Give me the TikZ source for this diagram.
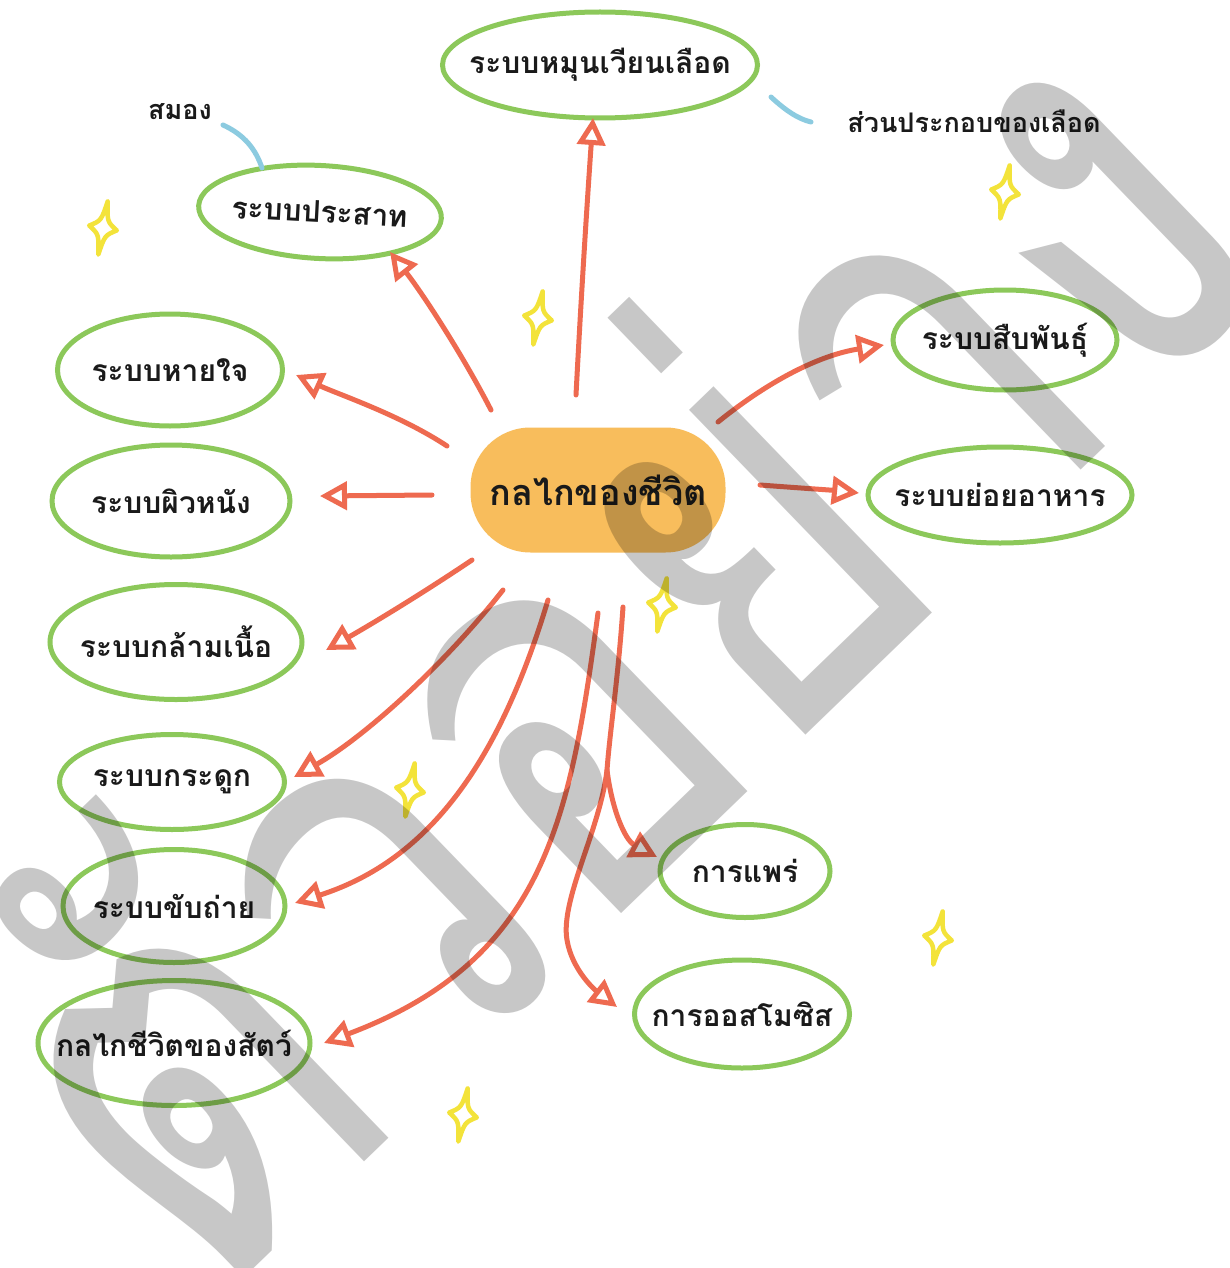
\documentclass[tikz,border=0pt]{standalone}
\usepackage{fontspec}
\usetikzlibrary{shapes.geometric,arrows.meta}
\newfontfamily\thai[Script=Thai]{Loma}
\definecolor{leaf}{HTML}{8CC85A}
\definecolor{coral}{HTML}{EE6A50}
\definecolor{amber}{HTML}{F8BD5C}
\definecolor{sky}{HTML}{8CCBE0}
\definecolor{spk}{HTML}{F3E33A}
\definecolor{ink}{HTML}{1A1A1A}
\tikzset{
  bub/.style={ellipse, draw=leaf, line width=5pt, inner sep=0pt, text=ink,
    font=\thai\bfseries\fontsize{30}{30}\selectfont},
  arr/.style={draw=coral, line width=5pt, line cap=round, line join=round,
    -{Triangle[open,length=27pt,width=28pt]}},
  note/.style={text=ink, font=\thai\bfseries\fontsize{27}{27}\selectfont},
  spark/.style={draw=spk, line width=4.5pt, line join=round},
  sparkle/.pic={\draw[spark] (0,-27) .. controls (3,-7) .. (14,0) .. controls (3,7) .. (0,27) .. controls (-3,7) .. (-14,0) .. controls (-3,-7) .. cycle;},
  skyline/.style={draw=sky, line width=5pt, line cap=round}
}
\newcommand{\tx}[1]{\makebox[0pt]{#1}}
\begin{document}
\begin{tikzpicture}[x=1pt,y=-1pt]
\fill[white] (0,0) rectangle (1230,1268);
\useasboundingbox (0,0) rectangle (1230,1268);

% hub
\node[fill=amber, rounded corners=60pt, minimum width=255pt, minimum height=125pt,
  text=ink, font=\thai\bfseries\fontsize{36}{36}\selectfont] (hub) at (598,490) {กลไกของชีวิต};

% bubbles
\node[bub, minimum width=315pt, minimum height=106pt] (circ) at (600,65) {\tx{ระบบหมุนเวียนเลือด}};
\node[bub, minimum width=243pt, minimum height=93pt, rotate=-3] (nerv) at (320,212) {\tx{ระบบประสาท}};
\node[bub, minimum width=225pt, minimum height=112pt] (resp) at (170,370) {\tx{ระบบหายใจ}};
\node[bub, minimum width=238pt, minimum height=112pt] (skin) at (171,501) {\tx{ระบบผิวหนัง}};
\node[bub, minimum width=252pt, minimum height=115pt] (musc) at (176,642) {\tx{ระบบกล้ามเนื้อ}};
\node[bub, minimum width=225pt, minimum height=95pt] (bone) at (172,782) {\tx{ระบบกระดูก}};
\node[bub, minimum width=222pt, minimum height=113pt] (excr) at (174,906) {\tx{ระบบขับถ่าย}};
\node[bub, minimum width=272pt, minimum height=125pt] (anim) at (174,1043) {\tx{กลไกชีวิตของสัตว์}};
\node[bub, minimum width=224pt, minimum height=100pt] (repr) at (1005,340) {\tx{ระบบสืบพันธุ์}};
\node[bub, minimum width=264pt, minimum height=96pt] (dige) at (1000,495) {\tx{ระบบย่อยอาหาร}};
\node[bub, minimum width=170pt, minimum height=93pt] (diff) at (745,871) {\tx{การแพร่}};
\node[bub, minimum width=215pt, minimum height=108pt] (osmo) at (742,1014) {\tx{การออสโมซิส}};

% notes
\node[note] (brain) at (180,112) {สมอง};
\node[note] (blood) at (974,121) {ส่วนประกอบของเลือด};
\coordinate (b1) at (223,125); \coordinate (b2) at (262,168);
\draw[skyline] (b1) .. controls (245,135) and (256,150) .. (b2);
\coordinate (c1) at (771,97); \coordinate (c2) at (811,122);
\draw[skyline] (c1) .. controls (785,110) and (798,119) .. (c2);

% connector ends
\coordinate (s1) at (576,395);  \coordinate (e1) at (593,118);
\coordinate (s2) at (491,410);  \coordinate (e2) at (390,252);
\coordinate (s3) at (447,446);  \coordinate (e3) at (296,375);
\coordinate (s4) at (432,495);  \coordinate (e4) at (320,496);
\coordinate (s5) at (472,560);  \coordinate (e5) at (326,650);
\coordinate (s6) at (503,590);  \coordinate (e6) at (294,777);
\coordinate (s7) at (548,600);  \coordinate (e7) at (295,903);
\coordinate (s8) at (598,613);  \coordinate (e8) at (324,1043);
\coordinate (s9) at (623,607);  \coordinate (f9) at (607,770);
\coordinate (e9) at (657,857);  \coordinate (e10) at (617,1007);
\coordinate (s11) at (718,422); \coordinate (e11) at (884,345);
\coordinate (s12) at (760,485); \coordinate (e12) at (859,493);

\draw[arr] (s1) .. controls (582,280) and (588,190) .. (e1);
\draw[arr] (s2) .. controls (460,350) and (420,290) .. (e2);
\draw[arr] (s3) .. controls (400,415) and (340,395) .. (e3);
\draw[arr] (s4) -- (e4);
\draw[arr] (s5) .. controls (420,595) and (370,625) .. (e5);
\draw[arr] (s6) .. controls (440,670) and (360,740) .. (e6);
\draw[arr] (s7) .. controls (500,760) and (430,860) .. (e7);
\draw[arr] (s8) .. controls (570,820) and (545,960) .. (e8);
\draw[arr] (s9) .. controls (618,680) and (610,730) .. (f9) .. controls (612,810) and (625,840) .. (e9);
\draw[arr] (f9) .. controls (600,830) and (560,900) .. (567,940) .. controls (572,970) and (595,990) .. (e10);
\draw[arr] (s11) .. controls (770,380) and (820,355) .. (e11);
\draw[arr] (s12) .. controls (800,488) and (830,490) .. (e12);

% sparkles
\pic[rotate=-10] at (103,228) {sparkle};
\pic[rotate=-10] at (538,318) {sparkle};
\pic[rotate=-10] at (1005,192) {sparkle};
\pic[rotate=-10] at (662,605) {sparkle};
\pic[rotate=-10] at (410,790) {sparkle};
\pic[rotate=-10] at (938,938) {sparkle};
\pic[rotate=-10] at (463,1115) {sparkle};

% watermark
\node[rotate=44, yscale=1.3, text=black, opacity=0.22, inner sep=0pt,
  font=\thai\fontsize{435}{435}\selectfont] (wm) at (592,630) {ตัวอย่าง};
\end{tikzpicture}
\end{document}
